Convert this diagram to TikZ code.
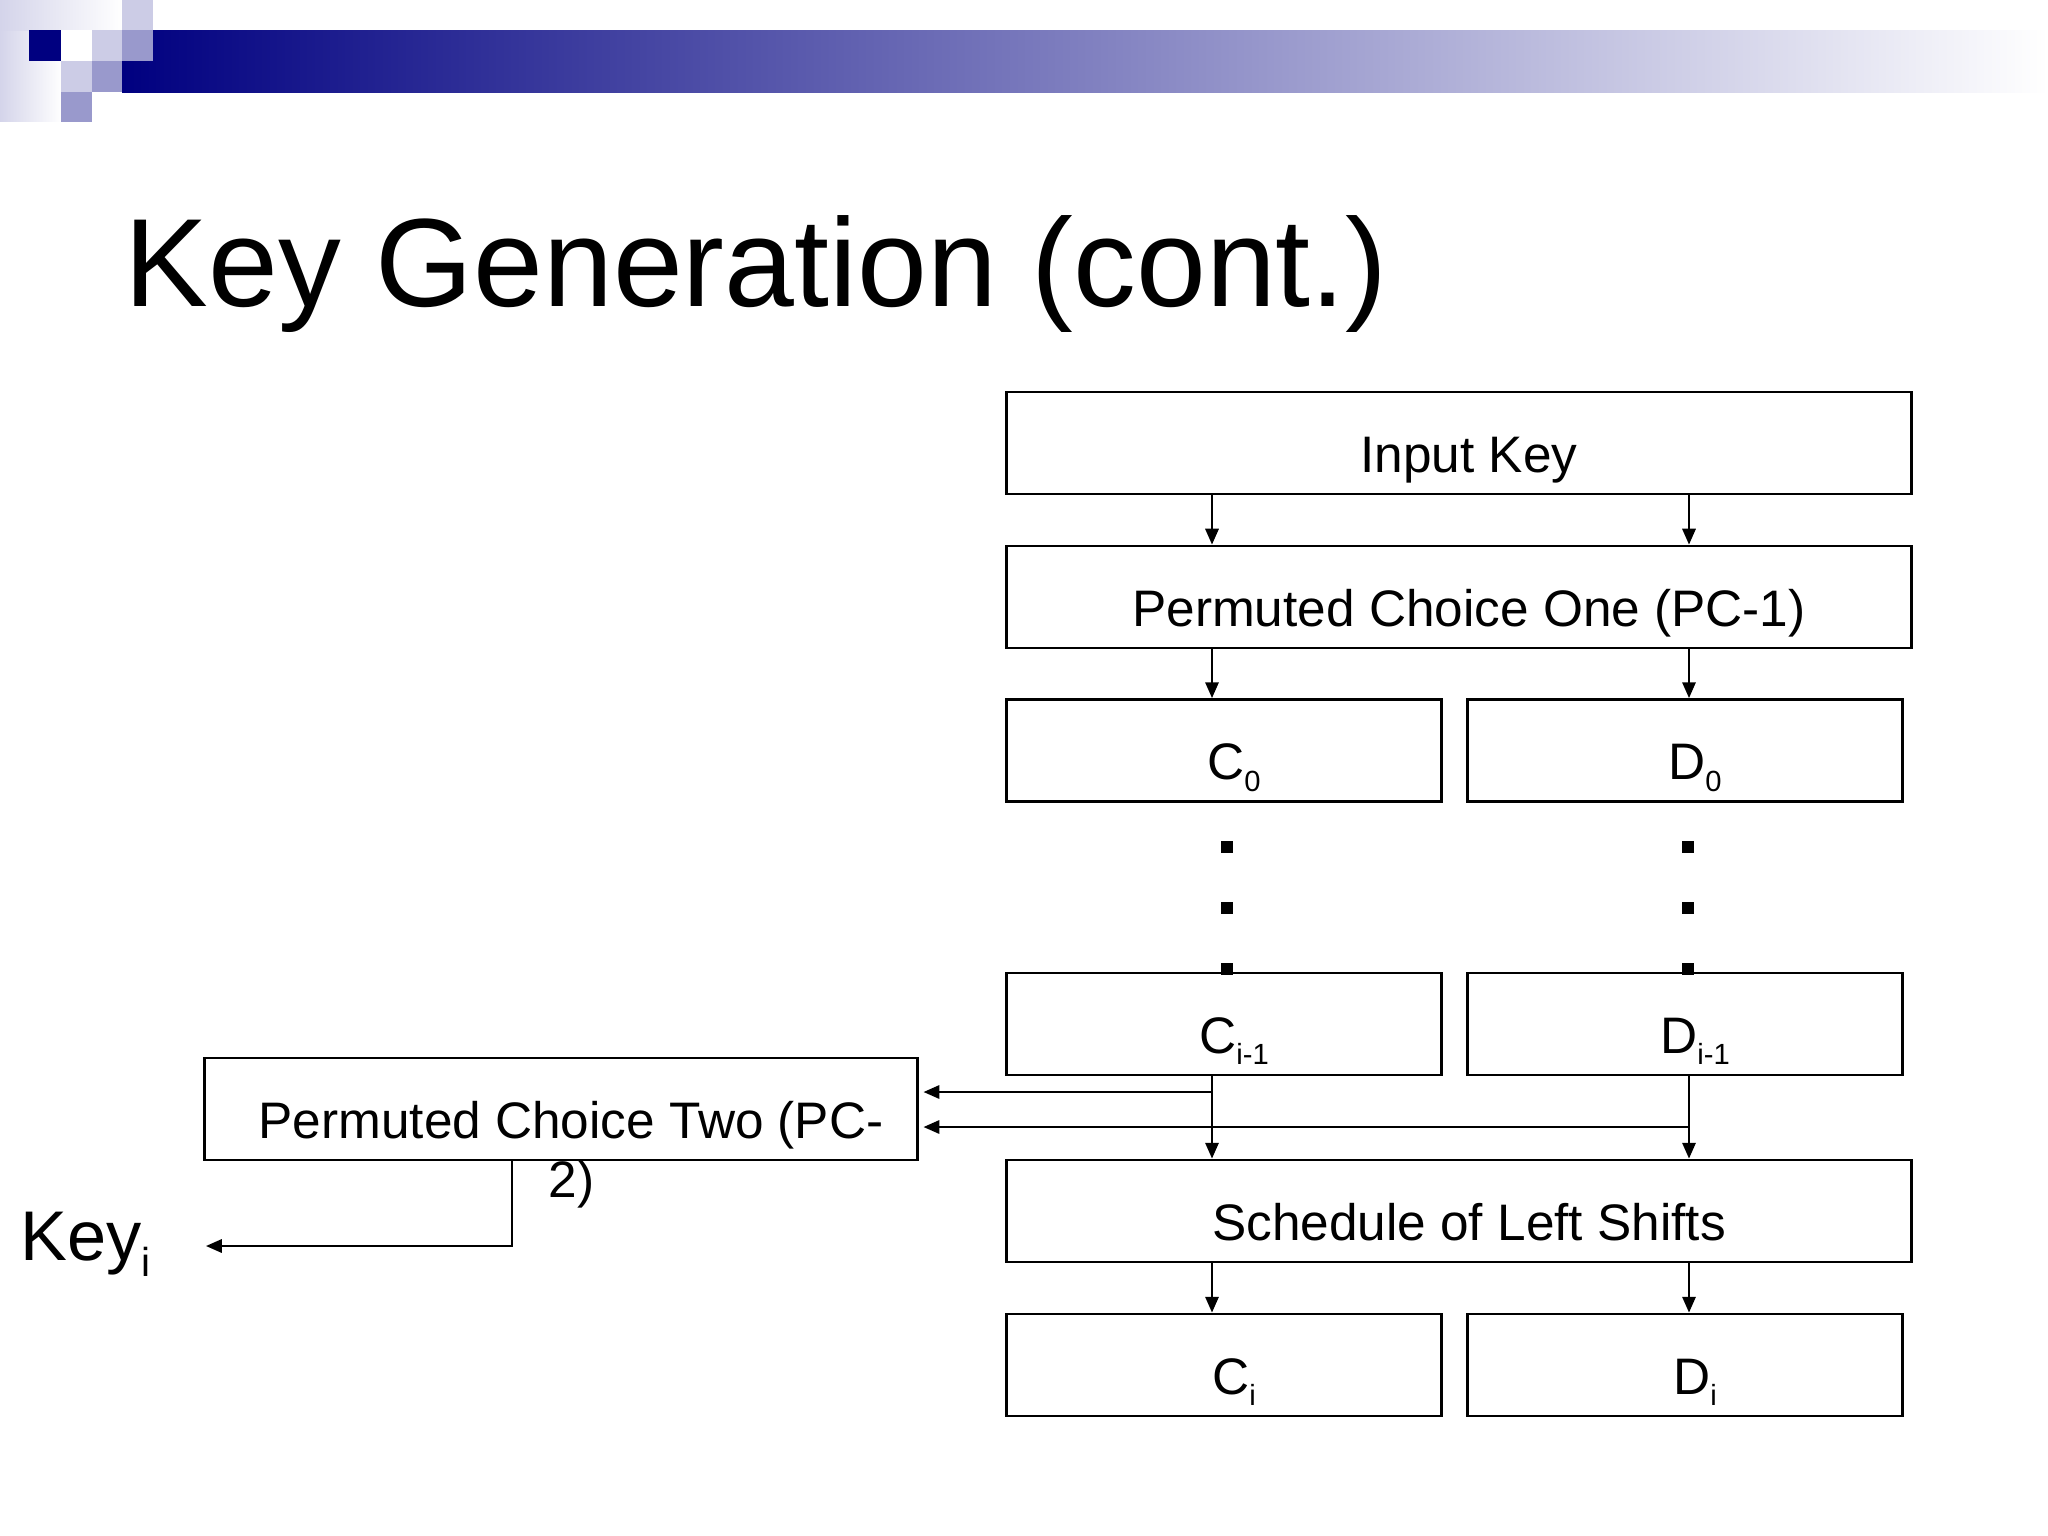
\documentclass[tikz,border=0pt]{standalone}
\usepackage{fontspec}
\setmainfont{Liberation Sans}
\usetikzlibrary{arrows.meta,calc}
\definecolor{navy}{HTML}{000080}
\definecolor{lightlav}{HTML}{CCCCE6}
\definecolor{medlav}{HTML}{9999CC}
\definecolor{palelav}{HTML}{D4D4EA}
\newcommand\subtxt[1]{\raisebox{-3.3pt}{\fontsize{8.3}{9}\selectfont #1}}
\begin{document}
\begin{tikzpicture}[x=0.01cm,y=-0.01cm,
  box/.style={draw,line width=0.8pt,inner sep=0pt,
    font=\fontsize{14.6}{17}\selectfont,text height=16.5pt,text depth=0pt,
    minimum height=1.02cm,execute at begin node=\hspace*{0.2cm}},
  wide/.style={box,minimum width=9.04cm},
  half/.style={box,minimum width=4.34cm},
  arr/.style={line width=0.6pt,-{Triangle[length=4.5pt,width=3.8pt]}},
  ln/.style={line width=0.6pt},
  dotsq/.style={fill=black}]
\useasboundingbox (0,0) rectangle (2048,1536);
% decoration
\shade[left color=palelav,right color=white] (0,0) rectangle (62,121);
\shade[left color=palelav,right color=white] (0,0) rectangle (122,30);
\shade[left color=navy,right color=white] (122,30) rectangle (2048,92);
\fill[lightlav] (122,0) rectangle (153,30);
\fill[navy] (29,30) rectangle (61,61);
\fill[white] (61,30) rectangle (92,61);
\fill[lightlav] (92,30) rectangle (122,61);
\fill[medlav] (122,30) rectangle (153,61);
\fill[lightlav] (61,61) rectangle (92,92);
\fill[medlav] (92,61) rectangle (122,92);
\fill[medlav] (61,92) rectangle (92,122);
% title
\node[anchor=base west,inner sep=0pt,font=\fontsize{35.7}{42}\selectfont] (title) at (124,306) {Key Generation (cont.)};
% column coordinates
\coordinate (xl) at (1212,0);
\coordinate (xr) at (1689,0);
% boxes
\node[wide] (ik) at (1459,443) {Input Key};
\node[wide] (pc1) at (1459,597) {Permuted Choice One (PC-1)};
\node[half] (c0) at (1224,750.5) {C\subtxt{0}};
\node[half] (d0) at (1685,750.5) {D\subtxt{0}};
\node[half] (ci1) at (1224,1024) {C\subtxt{i-1}};
\node[half] (di1) at (1685,1024) {D\subtxt{i-1}};
\node[wide] (sch) at (1459,1211) {Schedule of Left Shifts};
\node[half] (ci) at (1224,1365) {C\subtxt{i}};
\node[half] (di) at (1685,1365) {D\subtxt{i}};
\node[box,minimum width=7.12cm] (pc2) at (561,1109) {Permuted Choice Two (PC-};
\node[anchor=base west,inner sep=0pt,font=\fontsize{14.6}{17}\selectfont] (pc2b) at (548,1197) {2)};
\node[anchor=base west,inner sep=0pt,font=\fontsize{20}{24}\selectfont] (key) at (20,1260) {Key\raisebox{-4.8pt}{\fontsize{11.5}{12}\selectfont i}};
% dots
\foreach \y in {847,908,969}{
  \fill (1221,\y-6) rectangle (1233,\y+6);
  \fill (1682,\y-6) rectangle (1694,\y+6);
}
% connectors
\draw[arr] (ik.south -| xl) -- (pc1.north -| xl);
\draw[arr] (ik.south -| xr) -- (pc1.north -| xr);
\draw[arr] (pc1.south -| xl) -- (c0.north -| xl);
\draw[arr] (pc1.south -| xr) -- (d0.north -| xr);
\draw[arr] (ci1.south -| xl) -- (sch.north -| xl);
\draw[arr] (di1.south -| xr) -- (sch.north -| xr);
\draw[arr] (sch.south -| xl) -- (ci.north -| xl);
\draw[arr] (sch.south -| xr) -- (di.north -| xr);
\coordinate (j1) at (1212,1092);
\coordinate (j2) at (1689,1127);
\draw[arr,shorten >=1.4pt] (j1) -- (j1 -| pc2.east);
\draw[arr,shorten >=1.4pt] (j2) -- (j2 -| pc2.east);
\coordinate (kdrop) at (512,0);
\coordinate (kend) at (206,1246);
\draw[arr] (pc2.south -| kdrop) |- (kend);
\end{tikzpicture}
\end{document}
